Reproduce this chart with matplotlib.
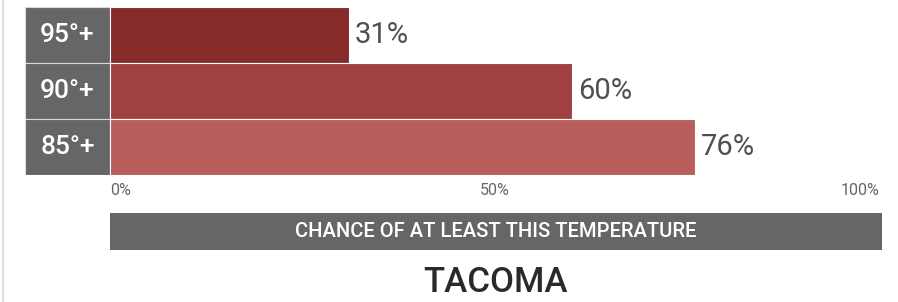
import matplotlib
matplotlib.use('Agg')
import matplotlib.pyplot as plt
from matplotlib.lines import Line2D

plt.rcParams['font.family'] = ['Roboto', 'DejaVu Sans']

# data
labels = ['95°+', '90°+', '85°+']
chances = [31, 60, 76]
bar_colors = ['#862a2a', '#a04040', '#b85c5c']
tick_values = [0, 50, 100]
tick_labels = ['0%', '50%', '100%']
axis_title = 'CHANCE OF AT LEAST THIS TEMPERATURE'
city = 'TACOMA'

W, H = 898, 302
fig = plt.figure(figsize=(W / 100, H / 100), dpi=100)
fig.patch.set_facecolor('white')

# main bar axes: 0% at x=110px, 100% at x=880px, label column from 25px
x0, x100 = 110, 880
unit = (x100 - x0) / 100.0
left_px = 25
label_w = (x0 - left_px) / unit
ax = fig.add_axes([left_px / W, 1 - 175 / H, (x100 - left_px) / W, 168 / H])
ax.set_xlim(-label_w, 100)
ax.set_ylim(-0.5, len(labels) - 0.5)

ypos = list(range(len(labels)))[::-1]
ax.barh(ypos, [label_w] * len(labels), left=-label_w, height=1.0,
        color='#666666', edgecolor='#d9d9d9', linewidth=0.8)
ax.barh(ypos, chances, height=1.0, color=bar_colors,
        edgecolor='white', linewidth=0.8)

for y, lab, v in zip(ypos, labels, chances):
    ax.text(-label_w / 2, y, lab, ha='center', va='center',
            color='white', fontsize=19, fontweight='medium')
    ax.text(v + 0.8, y, '%d%%' % v, ha='left', va='center',
            color='#505050', fontsize=21)

for s in ax.spines.values():
    s.set_visible(False)
ax.set_yticks([])
ax.set_xticks(tick_values)
ax.set_xticklabels(tick_labels, fontsize=11.5, color='#666666')
ax.tick_params(axis='x', length=0, pad=6)
for t, ha in zip(ax.get_xticklabels(), ['left', 'center', 'right']):
    t.set_horizontalalignment(ha)

# gray footer band with axis title
ax2 = fig.add_axes([x0 / W, 1 - 250 / H, (882 - x0) / W, 37 / H])
ax2.set_facecolor('#666666')
ax2.set_xticks([])
ax2.set_yticks([])
for s in ax2.spines.values():
    s.set_visible(False)
ax2.text(0.5, 0.5, axis_title, transform=ax2.transAxes, ha='center',
         va='center', color='white', fontsize=14.5, fontweight='medium')

fig.text(496 / W, 1 - 283 / H, city, ha='center', va='center',
         fontsize=25, color='#2a2a2a', fontweight='medium')

fig.add_artist(Line2D([3 / W, 3 / W], [0, 1], transform=fig.transFigure,
                      color='#dddddd', linewidth=1.5))

fig.savefig('out.png', dpi=100, facecolor='white')
